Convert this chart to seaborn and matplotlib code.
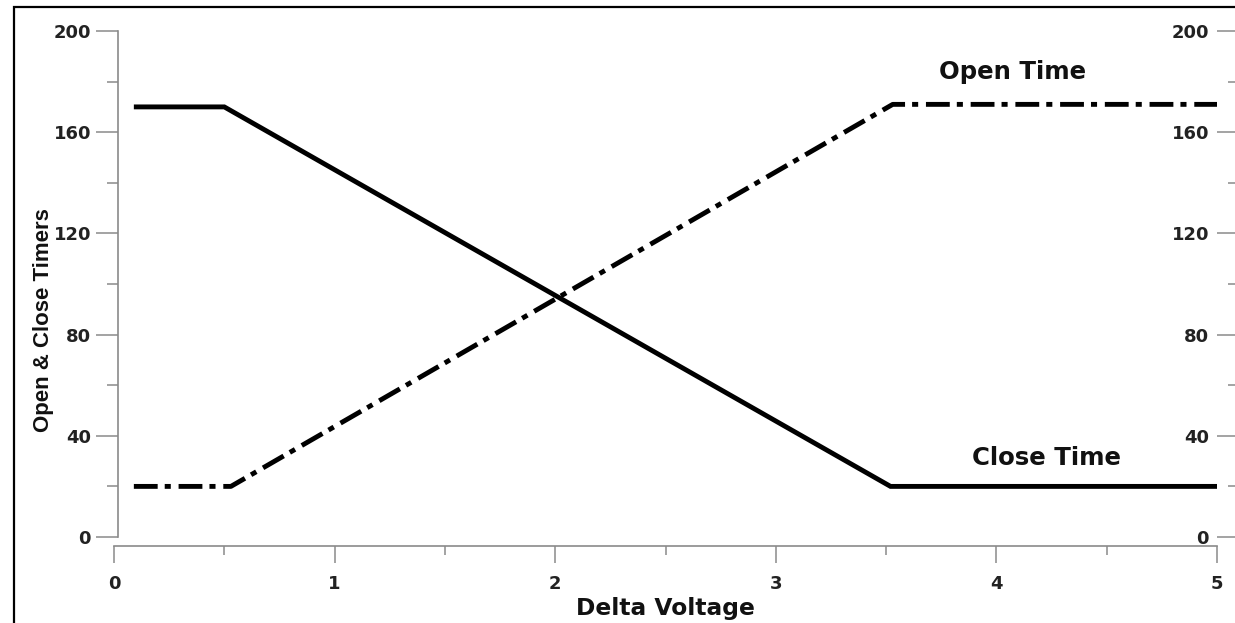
import pandas as pd
import matplotlib.pyplot as plt
import seaborn as sns
from matplotlib import font_manager
from matplotlib.patches import Rectangle
from matplotlib.ticker import MultipleLocator

# values
close_voltage = [0.09, 0.5, 3.52, 5.0]
close_time = [170, 170, 20, 20]
open_voltage = [0.09, 0.53, 3.53, 5.0]
open_time = [20, 20, 171, 171]

x_ticks = [0, 1, 2, 3, 4, 5]
y_ticks = [0, 40, 80, 120, 160, 200]

close_df = pd.DataFrame({"Delta Voltage": close_voltage, "Timer": close_time})
open_df = pd.DataFrame({"Delta Voltage": open_voltage, "Timer": open_time})

sns.set_style("ticks")
plt.rcParams["font.family"] = ["DejaVu Sans"]

# the y label is set in a narrow face; use one if it is installed
installed = {f.name for f in font_manager.fontManager.ttflist}
if "Liberation Sans Narrow" in installed:
    ylab_family, ylab_size = "Liberation Sans Narrow", 19.5
else:
    ylab_family, ylab_size = "Liberation Sans", 16

grey = "#8a8a8a"
fig = plt.figure(figsize=(12.35, 6.23), dpi=100)
ax = fig.add_axes([114 / 1235, 86 / 623, 1103 / 1235, 506 / 623])

sns.lineplot(data=close_df, x="Delta Voltage", y="Timer", ax=ax, color="black",
             linewidth=3.5, solid_capstyle="butt", solid_joinstyle="miter")
sns.lineplot(data=open_df, x="Delta Voltage", y="Timer", ax=ax, color="black",
             linewidth=3.5, linestyle=(0, (4.9, 1.45, 1.25, 1.6)))

ax.set_xlim(0, 5)
ax.set_ylim(0, 200)
ax.set_xticks(x_ticks)
ax.set_yticks(y_ticks)
ax.xaxis.set_minor_locator(MultipleLocator(0.5))
ax.yaxis.set_minor_locator(MultipleLocator(20))

for side in ["top", "right"]:
    ax.spines[side].set_visible(False)
ax.spines["left"].set_position(("outward", -2.9))
ax.spines["bottom"].set_position(("outward", 6.5))
ax.spines["left"].set_bounds(0, 200)
ax.spines["bottom"].set_bounds(0, 5)
for side in ["left", "bottom"]:
    ax.spines[side].set_color(grey)
    ax.spines[side].set_linewidth(1.2)

ax.tick_params(axis="y", which="major", length=15.5, width=1.1, color=grey, pad=4)
ax.tick_params(axis="y", which="minor", length=8, width=1.1, color=grey)
ax.tick_params(axis="x", which="major", length=12, width=1.1, color=grey, pad=9)
ax.tick_params(axis="x", which="minor", length=6.5, width=1.1, color=grey)
for lab in ax.get_xticklabels() + ax.get_yticklabels():
    lab.set_fontsize(13)
    lab.set_fontweight("bold")
    lab.set_color("#222222")

ax.set_xlabel("Delta Voltage", fontsize=16.8, fontweight="bold", color="#111111")
ax.xaxis.set_label_coords(0.5, -0.118)
ax.set_ylabel("Open & Close Timers", fontsize=ylab_size, fontweight="bold",
              family=ylab_family, color="#111111")
ax.yaxis.set_label_coords(-0.054, 0.428)

# right hand scale, same as the left one
ax2 = ax.twinx()
ax2.set_ylim(0, 200)
ax2.set_yticks(y_ticks)
ax2.yaxis.set_minor_locator(MultipleLocator(20))
ax2.yaxis.tick_left()
for side in ["top", "right", "bottom"]:
    ax2.spines[side].set_visible(False)
ax2.spines["left"].set_position(("axes", 1.0199))
ax2.spines["left"].set_color(grey)
ax2.tick_params(axis="y", which="major", length=15.5, width=1.1, color=grey, pad=6)
ax2.tick_params(axis="y", which="minor", length=8, width=1.1, color=grey)
for lab in ax2.get_yticklabels():
    lab.set_fontsize(13)
    lab.set_fontweight("bold")
    lab.set_color("#222222")

ax.text(4.075, 181, "Open Time", fontsize=17.6, fontweight="bold", ha="center",
        va="baseline", color="#111111")
ax.text(4.225, 28.5, "Close Time", fontsize=17.6, fontweight="bold", ha="center",
        va="baseline", color="#111111")

# outer frame (left and top edge visible)
fig.add_artist(Rectangle((14 / 1235, -0.05), 1.1, 0.05 + 616 / 623, fill=False,
                         edgecolor="black", linewidth=1.6, transform=fig.transFigure))

fig.savefig("out.png", dpi=100)
